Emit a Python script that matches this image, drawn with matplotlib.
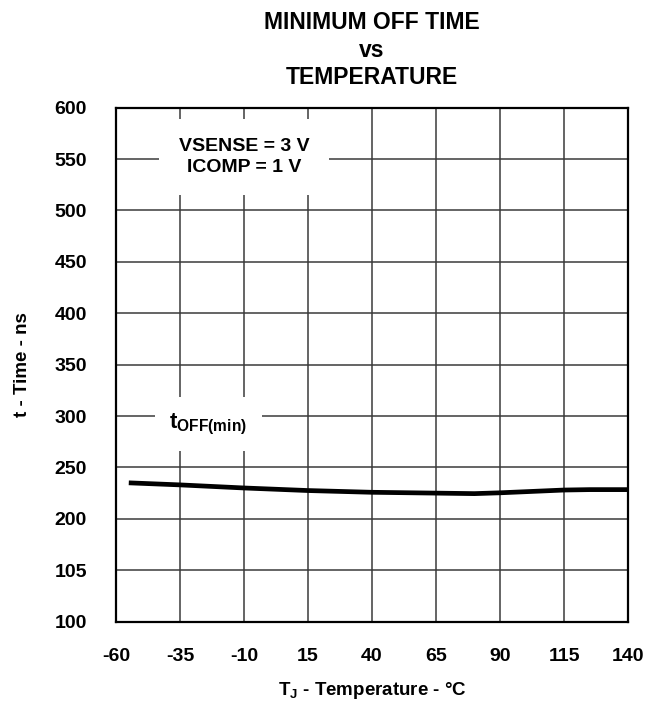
import matplotlib
matplotlib.use("Agg")
import matplotlib.pyplot as plt

plt.rcParams['font.family'] = ['Liberation Sans', 'DejaVu Sans']
plt.rcParams['font.weight'] = 'bold'
plt.rcParams['axes.unicode_minus'] = False
plt.rcParams['mathtext.fontset'] = 'custom'
plt.rcParams['mathtext.rm'] = 'Liberation Sans:bold'
plt.rcParams['mathtext.bf'] = 'Liberation Sans:bold'
plt.rcParams['mathtext.it'] = 'Liberation Sans:bold'

# data
temp = [-55, -35, -10, 15, 40, 65, 80, 90, 115, 125, 140]
t_off = [235, 233, 230, 227.5, 225.8, 225, 224.5, 225.3, 228, 228.4, 228.4]

x_ticks = [-60, -35, -10, 15, 40, 65, 90, 115, 140]
y_ticks = [100, 150, 200, 250, 300, 350, 400, 450, 500, 550, 600]
# labels as printed (sic)
y_labels = ['100', '105', '200', '250', '300', '350', '400', '450', '500', '550', '600']

fig = plt.figure(figsize=(6.59, 7.07), dpi=100)
ax = fig.add_axes([0.176, 0.1208, 0.777, 0.7269])

ax.plot(temp, t_off, color='black', lw=3.4, solid_capstyle='butt', zorder=3)

ax.set_xlim(-60, 140)
ax.set_ylim(100, 600)
ax.set_xticks(x_ticks)
ax.set_yticks(y_ticks)
ax.set_yticklabels(y_labels)
ax.tick_params(length=0, labelsize=14, pad=21)
ax.tick_params(axis='x', pad=19)
ax.grid(True, color='#3a3a3a', lw=1.1, zorder=1)
for s in ax.spines.values():
    s.set_linewidth(1.6)

ax.set_xlabel(r'T$_\mathrm{J}$ - Temperature - °C', fontsize=13.5, fontweight='bold', labelpad=11)
ax.set_ylabel('t - Time - ns', fontsize=13.5, fontweight='bold', labelpad=17)
ax.set_title('MINIMUM OFF TIME\nvs\nTEMPERATURE', fontsize=16.5, fontweight='bold',
             linespacing=1.25, pad=17)

ax.text(-10, 552, 'VSENSE = 3 V\nICOMP = 1 V', ha='center', va='center', fontsize=14,
        fontweight='bold', linespacing=1.25, zorder=4,
        bbox=dict(boxstyle='square,pad=1.0', facecolor='white', edgecolor='none'))
ax.text(-24, 292, r'$\mathrm{t}_{\mathrm{OFF(min)}}$', ha='center', va='center', fontsize=16,
        zorder=4, bbox=dict(boxstyle='square,pad=0.65', facecolor='white', edgecolor='none'))

fig.savefig('out.png', dpi=100)
